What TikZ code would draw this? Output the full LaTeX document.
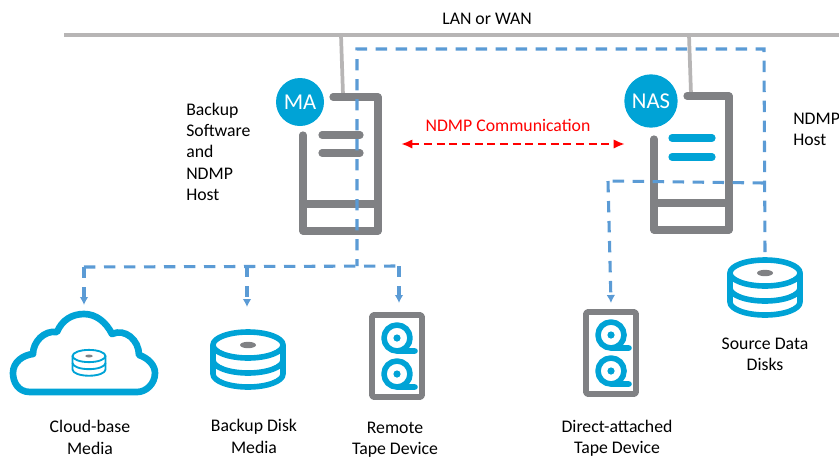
\documentclass[tikz,border=0pt]{standalone}
\usepackage{fontspec}
\setmainfont{Carlito}
\usetikzlibrary{arrows.meta}
\definecolor{iconblue}{RGB}{0,163,214}
\definecolor{icongray}{RGB}{128,129,132}
\definecolor{langray}{RGB}{183,181,181}
\definecolor{dashblue}{RGB}{91,155,213}
\tikzset{
	lanline/.style={draw=langray,line width=2.8pt},
	serverline/.style={draw=icongray,line width=5.4pt,line cap=round,line join=round},
	iconline/.style={draw=iconblue,line width=4.2pt,line cap=round,line join=round},
	netlink/.style={draw=dashblue,line width=2.3pt,dash pattern=on 8.5pt off 6.5pt},
	netarrow/.style={netlink,-{Latex[length=6pt,width=6.5pt]}},
	ndmplink/.style={draw=red,line width=2pt,dash pattern=on 6pt off 3.5pt,{Latex[length=8.5pt,width=7pt]}-{Latex[length=8.5pt,width=7pt]}},
	badge/.style={circle,fill=iconblue,text=white,inner sep=0pt},
	caption/.style={font=\fontsize{13.3}{16}\selectfont,align=center,inner sep=0pt},
	leftcaption/.style={caption,align=left,anchor=north west},
}
% x, y, scale, line width
\newcommand{\diskicon}[4]{
	\begin{scope}[shift={(#1,#2)},scale=#3]
	\draw[iconline,line width=#4] (0,0) ellipse [x radius=35,y radius=13];
	\draw[iconline,line width=#4] (-35,0) -- (-35,29) arc [start angle=180,end angle=0,x radius=35,y radius=13] -- (35,0);
	\draw[iconline,line width=#4] (-35,15) arc [start angle=180,end angle=0,x radius=35,y radius=13];
	\fill[icongray] (0,0) ellipse [x radius=8,y radius=3.2];
	\end{scope}
}
% x, y of the box centre
\newcommand{\tapeicon}[2]{
	\begin{scope}[shift={(#1,#2)}]
	\draw[serverline,line width=4.2pt,rounded corners=1pt] (-25,-41) rectangle (25,41);
	\foreach \reely in {-18,18}{
		\draw[iconline] (18,\reely+13) -- (0,\reely+13) arc [start angle=90,end angle=450,radius=13];
		\fill[iconblue] (0,\reely) circle (3.6);
	}
	\end{scope}
}
\begin{document}
\begin{tikzpicture}[x=0.75pt,y=-0.75pt]
	\useasboundingbox (0,0) rectangle (839,458);

	%LAN
	\coordinate (lanleft) at (64,35);
	\coordinate (lanright) at (839,35);
	\coordinate (lanma) at (341,35);
	\coordinate (lannas) at (689,35);
	\coordinate (mafeed) at (343,95);
	\coordinate (nasfeed) at (691,94);
	\draw[lanline] (lanleft) -- (lanright);
	\draw[lanline] (lanma) -- (mafeed);
	\draw[lanline] (lannas) -- (nasfeed);
	\node[caption] (lanlabel) at (487,19) {LAN or WAN};

	%MA server
	\draw[serverline] (333,97) -- (378,97) -- (378,231) -- (303,231) -- (303,135);
	\draw[serverline,line cap=butt] (303,204) -- (378,204);
	\draw[serverline] (322,135) -- (360,135);
	\draw[serverline] (322,153) -- (360,153);
	\node[badge,minimum size=36pt,font=\fontsize{17}{17}\selectfont] (ma) at (300,102) {MA};

	%NAS server
	\draw[serverline] (687,96) -- (729,96) -- (729,230) -- (654,230) -- (654,139);
	\draw[serverline,line cap=butt] (654,203) -- (729,203);
	\draw[iconline,line width=5.4pt] (672,138) -- (712,138);
	\draw[iconline,line width=5.4pt] (672,157) -- (712,157);
	\node[badge,minimum size=40pt,font=\fontsize{17}{17}\selectfont] (nas) at (651,101) {NAS};

	%dashed links
	\coordinate (srcdisk) at (765,252);
	\coordinate (srccorner) at (764,49);
	\coordinate (macorner) at (357,49);
	\coordinate (mabottom) at (357,266);
	\coordinate (busleft) at (84,267);
	\coordinate (busdisk) at (247,266);
	\coordinate (busright) at (399,266);
	\coordinate (cloudtop) at (84,305);
	\coordinate (disktop) at (247,307);
	\coordinate (remotetop) at (399,303);
	\coordinate (naswall) at (764,183);
	\coordinate (nascorner) at (608,181);
	\coordinate (directtop) at (611,303);
	\draw[netlink] (srcdisk) -- (srccorner) -- (macorner) -- (mabottom);
	\draw[netlink] (busleft) -- (busright);
	\draw[netarrow] (busleft) -- (cloudtop);
	\draw[netarrow] (busdisk) -- (disktop);
	\draw[netarrow] (busright) -- (remotetop);
	\draw[netlink] (naswall) -- (nascorner);
	\draw[netarrow] (nascorner) -- (directtop);

	%NDMP link
	\coordinate (ndmpleft) at (401,144);
	\coordinate (ndmpright) at (625,144);
	\draw[ndmplink] (ndmpleft) -- (ndmpright);
	\node[caption,text=red] (ndmplabel) at (508,125) {NDMP Communication};

	%cloud
	\draw[iconline,line width=5pt] (30,392) .. controls (18,392) and (13,382) .. (13,373)
		.. controls (13,362) and (23,355) .. (33,354)
		.. controls (33,342) and (44,330) .. (57,332)
		.. controls (62,320) and (72,314) .. (84,314)
		.. controls (96,314) and (106,322) .. (112,334)
		.. controls (125,328) and (139,340) .. (139,355)
		.. controls (148,358) and (155,365) .. (155,373)
		.. controls (155,384) and (146,392) .. (137,392) -- cycle;
	\diskicon{89}{356}{0.47}{1.4pt}

	%disks and tapes
	\diskicon{248}{345}{1}{4.2pt}
	\diskicon{765}{273}{1}{4.2pt}
	\tapeicon{397}{356}
	\tapeicon{611}{353}

	%labels
	\node[leftcaption] (backuplabel) at (186,102.5) {Backup\\Software\\and\\NDMP\\Host};
	\node[leftcaption] (hostlabel) at (793,113) {NDMP\\Host};
	\node[caption] (cloudlabel) at (90,437.5) {Cloud-base\\Media};
	\node[caption] (disklabel) at (254,436.5) {Backup Disk\\Media};
	\node[caption] (remotelabel) at (395,439.5) {Remote\\Tape Device};
	\node[caption] (directlabel) at (617,438.5) {Direct-attached\\Tape Device};
	\node[caption] (sourcelabel) at (765,354.5) {Source Data\\Disks};
\end{tikzpicture}
\end{document}
